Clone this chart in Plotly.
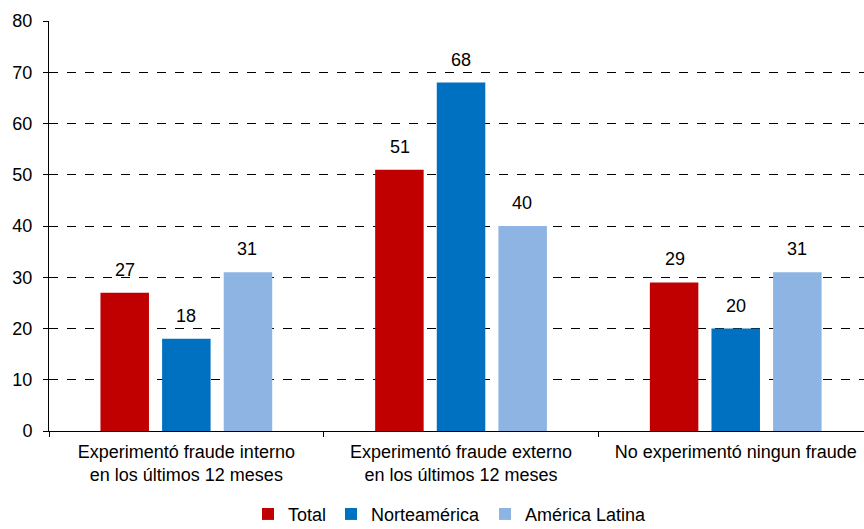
import plotly.graph_objects as go

categories = [
    "Experimentó fraude interno<br>en los últimos 12 meses",
    "Experimentó fraude externo<br>en los últimos 12 meses",
    "No experimentó ningun fraude",
]
total = [27, 51, 29]
norteamerica = [18, 68, 20]
america_latina = [31, 40, 31]

series = [
    ("Total", total, "#C00000"),
    ("Norteamérica", norteamerica, "#0070C0"),
    ("América Latina", america_latina, "#8DB4E2"),
]

FONT = "Liberation Sans, Arial, sans-serif"
FS = 18

fig = go.Figure()
# horizontal pixel offset of each bar's centre within its category group
offsets = [-61, 0, 61]
for (name, vals, color), dx in zip(series, offsets):
    fig.add_trace(go.Bar(
        x=categories, y=vals, name=name,
        marker=dict(color=color, line=dict(width=0)),
    ))
    for cat, v in zip(categories, vals):
        fig.add_annotation(
            x=cat, y=v, text=str(v), showarrow=False,
            xanchor="center", yanchor="bottom", xshift=dx, yshift=11,
            font=dict(family=FONT, size=FS, color="#000000"),
        )

fig.update_layout(
    width=864, height=529,
    margin=dict(l=49, r=0, t=21, b=98, autoexpand=False),
    paper_bgcolor="white", plot_bgcolor="white",
    font=dict(family=FONT, size=FS, color="#000000"),
    barmode="group", bargap=0.327, bargroupgap=0.213,
    showlegend=True,
    legend=dict(orientation="h", x=0.492, xanchor="center",
                y=-0.203, yanchor="middle",
                font=dict(size=FS), traceorder="normal"),
)
fig.update_xaxes(
    range=[-0.5, 2.467],
    showline=True, linecolor="black", linewidth=1,
    ticks="outside", tickson="boundaries", ticklen=5, tickcolor="black",
    showgrid=False, tickfont=dict(size=FS), automargin=False,
    ticklabelstandoff=4,
)
fig.update_yaxes(
    range=[0, 80], dtick=10, showline=True, linecolor="black", linewidth=1,
    ticks="outside", ticklen=5, tickcolor="black",
    showgrid=True, gridcolor="black", gridwidth=1, griddash="dash",
    zeroline=False, tickfont=dict(size=FS), automargin=False,
    ticklabelstandoff=7,
)

fig.write_html("out.html")
